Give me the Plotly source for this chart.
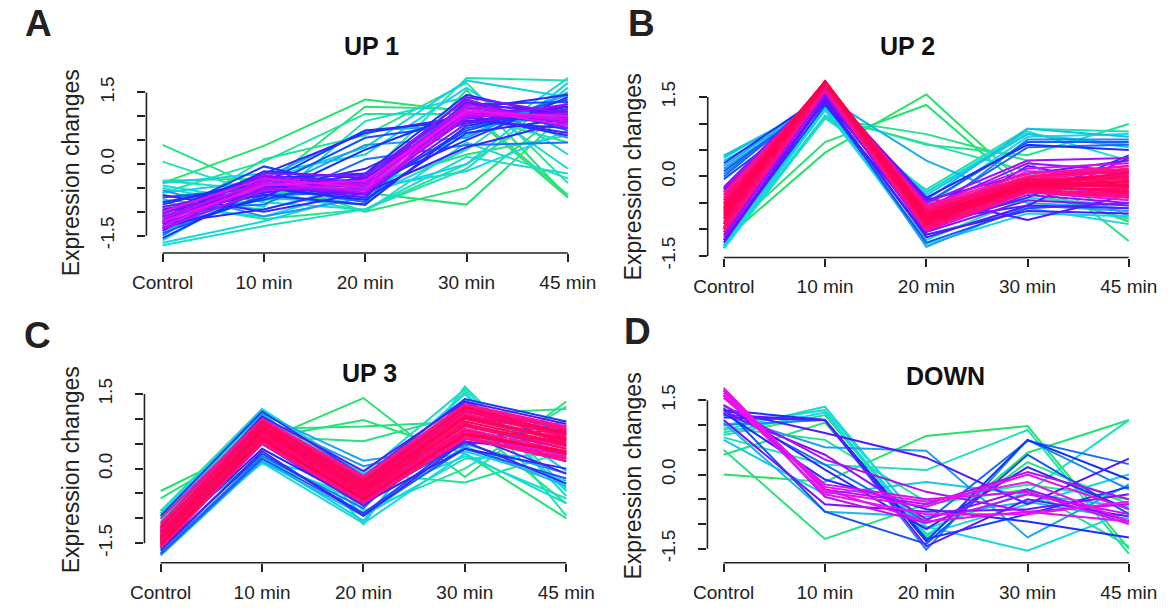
import plotly.graph_objects as go

W, H = 1174, 613
FONT = "Arial, Liberation Sans, sans-serif"

time_labels = ["Control", "10 min", "20 min", "30 min", "45 min"]
time_pos = [1, 2, 3, 4, 5]
y_tick_vals = [-1.5, -1.0, -0.5, 0.0, 0.5, 1.0, 1.5]
y_tick_text = ["-1.5", "", "", "0.0", "", "", "1.5"]

# ---------------- Panel A : UP 1 ----------------
up1_profiles = [
    [-0.40, 0.38, 1.35, 1.10, -0.70],
    [-0.35, -0.30, -1.00, -0.50, 1.20],
    [-0.90, -0.60, -0.60, -0.85, 1.10],
    [-0.70, -0.45, 1.20, 1.15, -0.65],
    [-1.00, -0.75, -0.70, 1.55, -0.70],
    [0.40, -0.55, -0.45, 0.20, 0.60],
    [-0.80, -1.15, -0.95, 0.00, 1.30],
    [-1.20, 0.10, 0.60, 1.70, -0.40],
    [-0.60, 0.05, 1.05, 1.05, 0.45],
    [0.05, -0.65, -0.30, 1.80, 1.75],
    [-1.70, -1.30, -0.95, -0.10, 1.60],
    [-0.35, -0.55, -1.00, 0.45, -0.30],
    [-0.50, -0.90, 0.90, 1.40, -0.10],
    [-1.60, -0.40, -0.70, 0.30, 1.80],
    [-0.90, -1.10, -0.50, -0.15, 0.70],
    [-0.40, -0.20, 0.20, 1.60, 0.20],
    [-1.40, -0.70, -0.85, 1.25, 0.95],
    [-0.75, -0.95, -0.40, 0.60, 1.45],
    [-1.10, -0.30, 0.70, 0.80, 1.00],
    [-1.30, -0.60, 0.40, 0.55, 1.50],
    [-0.55, -1.10, -0.70, 1.20, 0.55],
    [-1.50, -0.25, -0.35, 0.95, 1.20],
    [-0.95, -0.85, 0.10, 0.40, 0.45],
    [-1.20, -0.45, -0.80, 1.35, 0.70],
    [-0.70, -0.50, 0.55, 0.85, 1.35],
    [-1.05, -0.05, -0.55, 0.70, 1.25],
    [-1.35, -0.70, 0.30, 1.10, 0.80],
    [-0.85, -0.30, -0.20, 1.45, 0.95],
    [-1.25, -0.95, -0.45, 0.50, 1.40],
    [-1.00, -0.20, 0.65, 1.00, 0.60],
    [-1.15, -0.55, -0.10, 0.90, 1.10],
    [-1.20, -0.35, -0.50, 1.30, 1.00],
    [-0.95, -0.60, -0.30, 1.05, 1.20],
    [-1.30, -0.40, -0.65, 1.20, 0.85],
    [-1.05, -0.25, -0.40, 1.40, 1.05],
    [-1.25, -0.50, -0.55, 0.95, 1.25],
    [-1.15, -0.35, -0.45, 1.20, 0.90],
    [-1.30, -0.40, -0.55, 1.05, 0.95],
    [-1.00, -0.30, -0.50, 1.15, 0.80],
    [-1.20, -0.45, -0.35, 1.10, 1.00],
    [-1.45, -0.65, -0.60, 0.75, 1.15],
    [-1.10, -0.75, -0.25, 1.25, 1.30],
    [-0.80, -0.40, 0.70, 0.90, 0.75],
    [-1.55, -0.50, -0.75, 0.65, 0.95],
    [-1.00, -0.65, -0.85, 0.80, 1.20],
    [-1.20, -0.15, -0.30, 1.15, 1.45],
    [-0.65, -1.00, -0.60, 0.35, 0.90],
    [-1.35, -0.55, -0.20, 1.00, 0.65],
    [-1.10, -0.45, -0.70, 1.25, 1.10],
    [-1.40, -0.30, -0.45, 1.10, 0.95],
    [-0.90, -0.50, -0.60, 0.85, 1.15],
    [-1.25, -0.20, -0.25, 1.35, 0.75],
    [-1.10, -0.40, -0.60, 1.00, 1.05],
    [-1.35, -0.55, -0.40, 1.25, 0.85],
    [-0.45, -0.80, -0.95, 0.15, -0.20],
    [-1.65, -1.20, -0.60, 0.00, 1.70],
    [-0.60, -0.35, 0.35, 1.75, 1.40],
]
up1_membership = [0.02, 0.03, 0.04, 0.05, 0.06, 0.07, 0.08, 0.10, 0.12, 0.15,
                  0.17, 0.18, 0.20, 0.22, 0.24, 0.26, 0.28, 0.30, 0.35, 0.37,
                  0.38, 0.40, 0.42, 0.44, 0.46, 0.48, 0.50, 0.52, 0.54, 0.56,
                  0.58, 0.62, 0.64, 0.66, 0.68, 0.70, 0.75, 0.77, 0.79, 0.80,
                  0.45, 0.47, 0.49, 0.51, 0.53, 0.55, 0.57, 0.59, 0.63, 0.65,
                  0.67, 0.69, 0.72, 0.73, 0.20, 0.25, 0.27]

# ---------------- Panel B : UP 2 ----------------
up2_profiles = [
    [-1.20, 0.45, 1.55, -0.20, -0.85],
    [-1.10, 0.65, 1.35, -0.30, -0.80],
    [-1.30, 1.10, 0.80, 0.30, -1.22],
    [-1.35, 1.15, 0.60, 0.40, 0.99],
    [-1.33, 1.12, 0.62, 0.10, -0.75],
    [-1.36, 1.10, -0.25, 0.90, 0.85],
    [-1.30, 1.25, -1.20, -0.40, -0.55],
    [0.40, 1.40, -0.30, 0.85, 0.30],
    [0.35, 1.45, -0.55, 0.75, 0.80],
    [-1.25, 1.30, -1.10, -0.60, -0.90],
    [0.30, 1.35, -0.35, 0.80, 0.55],
    [0.20, 1.50, 0.30, -0.50, -0.60],
    [0.15, 1.45, -1.33, -0.55, -0.65],
    [0.05, 1.50, -0.75, 0.70, 0.70],
    [0.00, 1.55, -0.65, 0.55, 0.60],
    [-0.05, 1.40, -1.25, -0.60, -0.50],
    [-1.20, 1.35, -0.95, -0.40, 0.40],
    [0.25, 1.55, -0.40, 0.60, 0.50],
    [-0.25, 1.45, -0.85, -0.55, 0.35],
    [-1.00, 1.40, -1.10, -0.65, -0.70],
    [-0.25, 1.65, -0.40, -0.82, -0.35],
    [-1.20, 1.50, -0.95, 0.20, -0.20],
    [-0.20, 1.70, -0.45, 0.05, 0.30],
    [-1.10, 1.55, -1.05, -0.45, -0.55],
    [-0.30, 1.65, -0.60, 0.25, 0.10],
    [-1.05, 1.60, -0.90, -0.10, -0.40],
    [-0.35, 1.70, -0.55, 0.15, 0.25],
    [-0.95, 1.65, -1.00, -0.30, -0.45],
    [-0.50, 1.72, -0.70, 0.10, 0.05],
    [-0.80, 1.70, -0.85, -0.20, -0.30],
    [-0.45, 1.75, -0.65, 0.00, 0.20],
    [-0.90, 1.68, -0.95, -0.15, -0.10],
    [-0.40, 1.78, -0.60, -0.05, 0.10],
    [-0.95, 1.72, -0.98, -0.25, -0.35],
    [-0.55, 1.76, -0.70, -0.10, 0.05],
    [-0.85, 1.74, -0.90, -0.20, -0.25],
    [-0.45, 1.79, -0.65, -0.08, -0.05],
    [-0.75, 1.77, -0.85, -0.15, -0.20],
    [-0.60, 1.78, -0.75, -0.12, 0.00],
    [-0.90, 1.75, -0.92, -0.22, -0.15],
    [-0.50, 1.80, -0.68, -0.05, -0.10],
    [-0.70, 1.76, -0.80, -0.18, -0.28],
    [-0.65, 1.80, -0.78, -0.10, -0.12],
    [-0.80, 1.78, -0.88, -0.20, -0.08],
    [-0.58, 1.79, -0.72, -0.14, -0.18],
    [-0.30, 1.70, -0.55, 0.05, 0.20],
    [-1.00, 1.62, -1.02, -0.30, -0.40],
    [-0.35, 1.74, -0.58, 0.00, 0.15],
    [-1.05, 1.66, -1.00, -0.28, -0.38],
    [-0.42, 1.77, -0.62, -0.02, 0.12],
    [-0.98, 1.70, -0.96, -0.26, -0.32],
    [-0.52, 1.78, -0.66, -0.06, 0.02],
    [-0.88, 1.73, -0.90, -0.24, -0.22],
    [-0.62, 1.80, -0.74, -0.09, -0.02],
    [-0.78, 1.77, -0.84, -0.17, -0.30],
    [-0.68, 1.79, -0.79, -0.13, -0.15],
    [-0.72, 1.75, -0.82, -0.16, 0.08],
    [-1.15, 1.58, -1.02, -0.35, -0.50],
    [-0.22, 1.68, -0.50, 0.30, 0.35],
    [-1.25, 1.45, -1.15, -0.55, -0.60],
    [0.10, 1.48, -0.50, 0.65, 0.65],
    [0.38, 1.42, -0.45, 0.90, 0.75],
    [-1.35, 1.30, -1.28, -0.70, -0.75],
    [-1.32, 1.15, -0.30, 0.80, 0.60],
]
up2_membership = [0.02, 0.04, 0.07, 0.10, 0.12, 0.16, 0.18, 0.20, 0.23, 0.26,
                  0.28, 0.33, 0.36, 0.40, 0.43, 0.46, 0.49, 0.52, 0.55, 0.58,
                  0.62, 0.64, 0.66, 0.68, 0.70, 0.72, 0.76, 0.78, 0.80, 0.82,
                  0.84, 0.86, 0.88, 0.89, 0.90, 0.91, 0.92, 0.93, 0.94, 0.95,
                  0.96, 0.97, 0.98, 0.99, 1.00, 0.885, 0.895, 0.905, 0.915, 0.925,
                  0.935, 0.945, 0.955, 0.965, 0.975, 0.985, 0.995, 0.70, 0.71, 0.61,
                  0.45, 0.30, 0.25, 0.22]

# ---------------- Panel C : UP 3 ----------------
up3_profiles = [
    [-0.45, 0.55, 1.42, -0.17, 1.35],
    [-0.60, 0.60, 0.98, 0.30, -1.00],
    [-0.85, 0.80, 0.85, 0.95, -0.70],
    [-0.90, 0.65, 0.55, 1.10, 1.20],
    [-0.95, 1.00, -0.10, -0.28, 0.35],
    [-1.00, 1.10, -0.85, 0.00, 1.25],
    [-1.10, 0.20, -0.70, 1.55, -0.95],
    [-0.85, 1.20, -1.12, 1.65, -0.40],
    [-0.95, 0.10, -0.60, 0.25, -0.60],
    [-1.05, 1.15, -0.95, 0.20, 0.30],
    [-1.20, 0.15, -0.30, 1.50, -0.45],
    [-1.00, 1.18, -0.20, 0.35, -0.25],
    [-1.15, 0.20, -1.05, 1.40, -0.05],
    [-1.75, 0.15, -0.95, 0.45, -0.35],
    [-1.30, 1.10, 0.16, 0.45, 0.96],
    [-1.25, 1.00, 0.05, 0.50, -0.10],
    [-1.70, 0.25, -0.80, 1.30, 0.20],
    [-1.40, 1.05, -0.60, 0.50, 0.60],
    [-1.60, 0.30, -0.90, 0.60, 0.80],
    [-1.20, 0.90, -0.40, 1.35, 0.45],
    [-1.50, 0.40, -0.70, 0.40, 0.00],
    [-1.35, 0.95, -0.50, 1.20, 0.70],
    [-1.55, 0.50, -0.75, 0.70, -0.10],
    [-1.30, 0.90, -0.25, 1.25, 0.85],
    [-1.45, 0.60, -0.60, 0.55, 0.30],
    [-1.25, 0.85, -0.35, 1.15, 0.75],
    [-1.60, 0.55, -0.65, 0.75, 0.15],
    [-1.40, 0.70, -0.50, 0.90, 0.40],
    [-1.30, 0.80, -0.30, 1.10, 0.70],
    [-1.55, 0.60, -0.60, 0.70, 0.25],
    [-1.20, 0.90, -0.25, 1.20, 0.80],
    [-1.45, 0.65, -0.55, 0.80, 0.35],
    [-1.25, 0.95, -0.20, 1.25, 0.80],
    [-1.55, 0.55, -0.65, 0.65, 0.20],
    [-1.35, 0.85, -0.35, 1.10, 0.65],
    [-1.50, 0.62, -0.58, 0.75, 0.30],
    [-1.30, 0.90, -0.28, 1.18, 0.72],
    [-1.45, 0.70, -0.50, 0.90, 0.45],
    [-1.40, 0.78, -0.42, 1.00, 0.55],
    [-1.35, 0.82, -0.38, 1.05, 0.60],
    [-1.48, 0.68, -0.52, 0.85, 0.40],
    [-1.28, 0.88, -0.30, 1.15, 0.68],
    [-1.42, 0.75, -0.45, 0.95, 0.50],
    [-1.38, 0.80, -0.40, 1.02, 0.58],
    [-1.52, 0.58, -0.62, 0.70, 0.35],
    [-1.00, 1.00, -0.15, 1.30, 0.85],
    [-1.60, 0.52, -0.68, 0.62, 0.15],
    [-1.10, 0.98, -0.18, 1.28, 0.82],
    [-1.58, 0.50, -0.70, 0.60, 0.22],
    [-1.15, 0.92, -0.22, 1.22, 0.78],
    [-1.22, 0.96, -0.24, 1.20, 0.62],
    [-1.47, 0.66, -0.54, 0.78, 0.28],
    [-1.33, 0.86, -0.34, 1.08, 0.52],
    [-1.43, 0.72, -0.47, 0.88, 0.48],
    [-1.37, 0.84, -0.36, 1.04, 0.75],
    [-1.18, 0.94, -0.26, 1.24, 0.70],
    [-1.53, 0.60, -0.60, 0.68, 0.32],
    [-1.72, 0.20, -0.90, 0.40, -0.20],
    [-0.95, 1.15, -0.15, 1.40, 0.95],
    [-1.65, 0.35, -0.95, 0.55, -0.30],
    [-1.10, 1.05, -0.05, 1.35, 0.90],
    [-0.90, 1.20, -0.10, 1.60, -0.55],
    [-1.62, 0.12, -1.10, 0.30, -0.70],
]
up3_membership = [0.02, 0.04, 0.06, 0.08, 0.10, 0.12, 0.14, 0.17, 0.19, 0.21,
                  0.23, 0.25, 0.27, 0.32, 0.35, 0.38, 0.41, 0.44, 0.47, 0.50,
                  0.53, 0.56, 0.60, 0.63, 0.66, 0.69, 0.72, 0.75, 0.78, 0.81,
                  0.84, 0.86, 0.88, 0.89, 0.90, 0.91, 0.92, 0.93, 0.94, 0.95,
                  0.96, 0.97, 0.98, 0.99, 1.00, 0.885, 0.895, 0.905, 0.915, 0.925,
                  0.935, 0.945, 0.955, 0.965, 0.975, 0.985, 0.995, 0.45, 0.48, 0.58,
                  0.62, 0.20, 0.22]

# ---------------- Panel D : DOWN ----------------
down_profiles = [
    [0.00, -0.15, 0.78, 0.98, -1.50],
    [0.40, 1.05, -1.30, 0.44, 1.10],
    [0.50, -1.30, -0.60, -0.30, -1.45],
    [0.80, 1.20, -1.25, 0.25, -0.60],
    [0.95, 0.70, -0.55, -0.20, -0.50],
    [0.75, 0.20, 0.09, 0.90, -1.60],
    [0.90, 1.37, -1.10, -0.35, 1.10],
    [1.00, 1.30, -1.05, -1.54, -0.75],
    [0.85, 1.25, -1.20, -0.60, 0.00],
    [0.70, -0.40, -0.15, -0.40, -0.65],
    [1.05, -0.75, -0.85, -0.55, -0.90],
    [1.20, 0.55, 0.48, -1.27, -0.20],
    [1.00, 1.10, -1.52, 0.70, -0.30],
    [1.30, 0.20, -0.95, 0.68, 0.21],
    [1.35, -0.75, -1.40, 0.40, -0.80],
    [1.15, 1.10, -1.30, -0.80, -0.25],
    [1.25, -0.10, -0.70, -0.95, -1.27],
    [1.40, 0.10, -1.10, 0.15, -0.70],
    [1.30, 0.84, 0.34, -0.60, 0.32],
    [1.20, 1.10, -1.45, -0.50, -0.85],
    [1.10, -0.60, -0.75, -0.70, -0.40],
    [1.25, 0.40, -0.90, -0.30, -0.95],
    [1.40, 0.30, -0.35, -0.75, -0.60],
    [1.60, -0.30, -0.60, 0.05, -0.50],
    [1.70, -0.45, -0.98, -0.40, -0.80],
    [1.55, -0.20, -0.50, -0.35, -1.00],
    [1.75, -0.35, -0.65, 0.00, -0.70],
    [1.65, -0.25, -0.55, -0.15, -0.95],
    [1.60, -0.40, -0.80, -0.80, -0.55],
    [1.30, 1.10, -1.35, 0.70, -0.10],
    [1.70, -0.30, -0.95, -0.75, -0.95],
]
down_membership = [0.02, 0.04, 0.06, 0.08, 0.10, 0.17, 0.19, 0.22, 0.25, 0.28,
                   0.31, 0.36, 0.40, 0.43, 0.46, 0.49, 0.52, 0.55, 0.60, 0.63,
                   0.66, 0.69, 0.72, 0.73, 0.75, 0.77, 0.79, 0.80, 0.80, 0.50,
                   0.78]

# ---------------- colour scale for membership ----------------
color_stops = [
    (0.00, (40, 226, 90)),
    (0.14, (34, 226, 170)),
    (0.25, (20, 214, 232)),
    (0.38, (30, 150, 240)),
    (0.50, (16, 50, 255)),
    (0.65, (112, 16, 255)),
    (0.80, (240, 16, 240)),
    (0.90, (255, 16, 140)),
    (1.00, (255, 0, 80)),
]


def member_color(m):
    for (a, ca), (b, cb) in zip(color_stops[:-1], color_stops[1:]):
        if m <= b:
            t = (m - a) / (b - a) if b > a else 0
            c = [round(ca[i] + t * (cb[i] - ca[i])) for i in range(3)]
            return f"rgb({c[0]},{c[1]},{c[2]})"
    c = color_stops[-1][1]
    return f"rgb({c[0]},{c[1]},{c[2]})"


# layout geometry in pixels
panels = [
    dict(title="UP 1", letter="A", prof=up1_profiles, mem=up1_membership,
         first_px=152.0, step_px=103.6, top_px=70, bottom_px=258, zero_px=167.3, ppu=48.7,
         letter_xy=(25, 24), title_xy=(366, 47), ylab_xy=(58, 176)),
    dict(title="UP 2", letter="B", prof=up2_profiles, mem=up2_membership,
         first_px=726.0, step_px=103.5, top_px=72, bottom_px=262.7, zero_px=180.0, ppu=54.0,
         letter_xy=(642, 24), title_xy=(914, 47), ylab_xy=(633, 180)),
    dict(title="UP 3", letter="C", prof=up3_profiles, mem=up3_membership,
         first_px=150.0, step_px=103.7, top_px=385, bottom_px=574, zero_px=478.0, ppu=50.7,
         letter_xy=(24, 342), title_xy=(364, 380), ylab_xy=(58, 479)),
    dict(title="DOWN", letter="D", prof=down_profiles, mem=down_membership,
         first_px=725.7, step_px=103.6, top_px=390, bottom_px=574, zero_px=484.0, ppu=50.5,
         letter_xy=(638, 338), title_xy=(953, 383), ylab_xy=(633, 485)),
]

fig = go.Figure()
shapes = []
annotations = []
layout_axes = {}

for i, p in enumerate(panels, start=1):
    xa = "x" if i == 1 else f"x{i}"
    ya = "y" if i == 1 else f"y{i}"
    pad = 0.16
    left_px = p["first_px"] - pad * p["step_px"]
    right_px = p["first_px"] + (4 + pad) * p["step_px"]
    xrange = [1 - pad, 5 + pad]
    yrange = [(p["zero_px"] - p["bottom_px"]) / p["ppu"], (p["zero_px"] - p["top_px"]) / p["ppu"]]
    xdom = [left_px / W, right_px / W]
    ydom = [1 - p["bottom_px"] / H, 1 - p["top_px"] / H]

    order = sorted(range(len(p["prof"])), key=lambda k: p["mem"][k])
    for k in order:
        fig.add_trace(go.Scatter(
            x=time_pos, y=p["prof"][k], mode="lines",
            line=dict(color=member_color(p["mem"][k]), width=2),
            xaxis=xa, yaxis=ya, showlegend=False, hoverinfo="skip"))

    xkey = "xaxis" if i == 1 else f"xaxis{i}"
    ykey = "yaxis" if i == 1 else f"yaxis{i}"
    layout_axes[xkey] = dict(
        domain=xdom, range=xrange, anchor=ya, showgrid=False, zeroline=False,
        showline=False, tickmode="array", tickvals=time_pos, ticktext=time_labels,
        ticks="outside", ticklen=8, tickwidth=1.6, tickcolor="#222",
        tickfont=dict(family=FONT, size=19, color="#222"), ticklabelstandoff=4)
    layout_axes[ykey] = dict(
        domain=ydom, range=yrange, anchor=xa, showgrid=False, zeroline=False,
        showline=False, tickmode="array", tickvals=y_tick_vals, ticktext=y_tick_text,
        ticks="outside", ticklen=8, tickwidth=1.6, tickcolor="#222", tickangle=-90,
        tickfont=dict(family=FONT, size=19, color="#222"), ticklabelstandoff=16)

    shapes.append(dict(type="line", xref=xa, yref="paper", x0=1, x1=5,
                       y0=ydom[0], y1=ydom[0], line=dict(color="#222", width=1.6)))
    shapes.append(dict(type="line", xref="paper", yref=ya, x0=xdom[0], x1=xdom[0],
                       y0=-1.5, y1=1.5, line=dict(color="#222", width=1.6)))

    lx, ly = p["letter_xy"]
    annotations.append(dict(text=f"<b>{p['letter']}</b>", x=lx / W, y=1 - ly / H,
                            xref="paper", yref="paper", showarrow=False,
                            xanchor="center", yanchor="middle",
                            font=dict(family=FONT, size=37, color="#222")))
    tx, ty = p["title_xy"]
    annotations.append(dict(text=f"<b>{p['title']}</b>", x=tx / W, y=1 - ty / H,
                            xref="paper", yref="paper", showarrow=False,
                            xanchor="center", yanchor="middle",
                            font=dict(family=FONT, size=25, color="#111")))
    ax_, ay_ = p["ylab_xy"]
    annotations.append(dict(text="Expression changes", x=ax_ / W, y=1 - ay_ / H,
                            xref="paper", yref="paper", showarrow=False,
                            xanchor="center", yanchor="middle", textangle=-90,
                            font=dict(family=FONT, size=23, color="#222")))

fig.update_layout(
    width=W, height=H, margin=dict(l=0, r=0, t=0, b=0),
    paper_bgcolor="white", plot_bgcolor="white",
    shapes=shapes, annotations=annotations, showlegend=False,
    **layout_axes)

fig.write_html("out.html")
